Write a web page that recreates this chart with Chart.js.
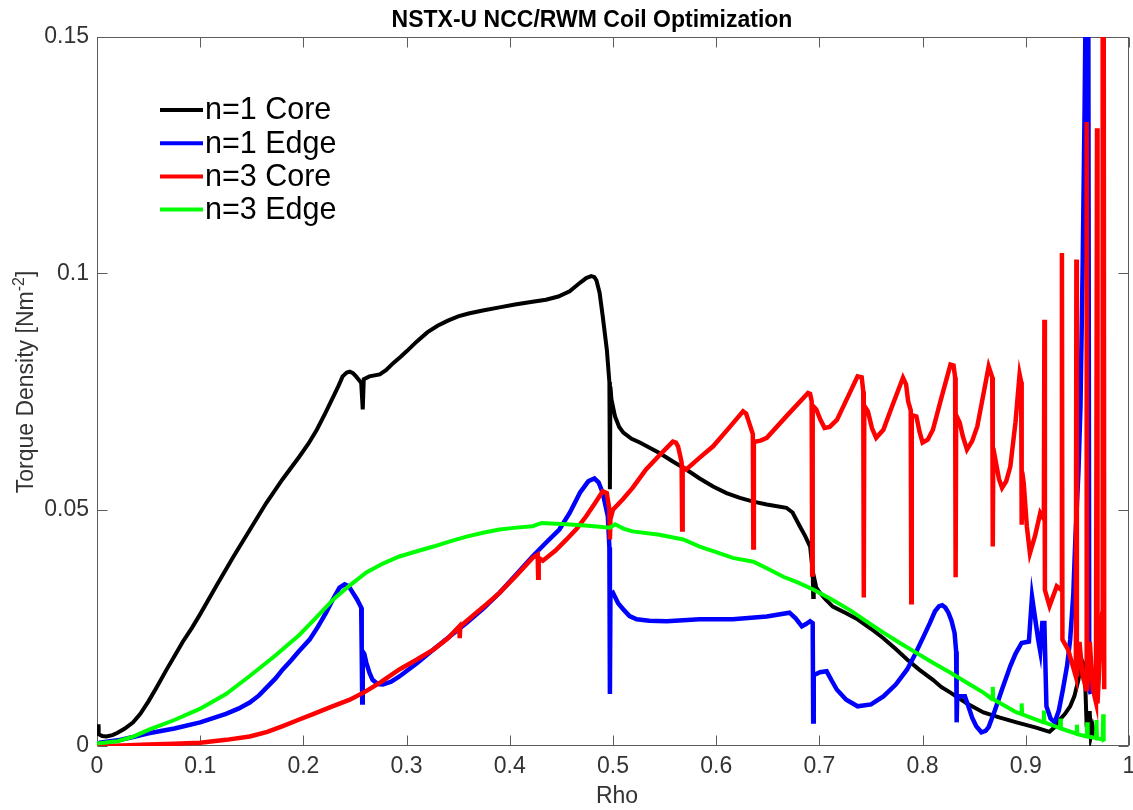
<!DOCTYPE html>
<html>
<head>
<meta charset="utf-8">
<title>NSTX-U NCC/RWM Coil Optimization</title>
<script src="https://cdn.jsdelivr.net/npm/chart.js@4.4.1/dist/chart.umd.min.js"></script>
<style>
  html, body { margin: 0; padding: 0; background: #fff; }
  canvas { display: block; }
</style>
</head>
<body>
<canvas id="torqueChart" width="1133" height="810"></canvas>
<script>
// axis ticks
const xTicks = [0, 0.1, 0.2, 0.3, 0.4, 0.5, 0.6, 0.7, 0.8, 0.9, 1];
const yTicks = [0, 0.05, 0.1, 0.15];

const seriesNames = ['n=1 Core', 'n=1 Edge', 'n=3 Core', 'n=3 Edge'];

// n=1 Core (black)
const core1Rho = [
  0, 0.0015, 0.0016, 0.005, 0.009, 0.015, 0.02, 0.027, 0.035, 0.042,
  0.05, 0.058, 0.067, 0.075, 0.083, 0.092, 0.1, 0.116, 0.132, 0.148,
  0.164, 0.18, 0.196, 0.205, 0.213, 0.221, 0.229, 0.234, 0.238, 0.242,
  0.245, 0.248, 0.251, 0.254, 0.256, 0.2575, 0.2585, 0.264, 0.274, 0.28,
  0.287, 0.294, 0.3, 0.31, 0.32, 0.33, 0.34, 0.35, 0.36, 0.375,
  0.39, 0.405, 0.422, 0.435, 0.447, 0.458, 0.468, 0.474, 0.479, 0.482,
  0.484, 0.487, 0.49, 0.494, 0.4965, 0.497, 0.4975, 0.4985, 0.502, 0.506,
  0.51, 0.518, 0.526, 0.545, 0.558, 0.571, 0.584, 0.597, 0.61, 0.623,
  0.636, 0.649, 0.668, 0.674, 0.681, 0.686, 0.691, 0.6935, 0.694, 0.6945,
  0.697, 0.7005, 0.706, 0.713, 0.725, 0.737, 0.75, 0.762, 0.774, 0.785,
  0.797, 0.81, 0.818, 0.827, 0.843, 0.859, 0.875, 0.891, 0.91, 0.923,
  0.928, 0.933, 0.938, 0.943, 0.947, 0.951, 0.954, 0.957, 0.958, 0.959,
  0.9605, 0.962, 0.963, 0.965, 0.967
];
const core1Torque = [
  0.0042, 0.0042, 0.0025, 0.0021, 0.002, 0.0023, 0.0028, 0.0037, 0.005, 0.0068,
  0.0095, 0.0125, 0.016, 0.019, 0.022, 0.025, 0.0279, 0.034, 0.040, 0.0457,
  0.0514, 0.0565, 0.0612, 0.064, 0.0669, 0.0703, 0.0739, 0.0762, 0.0782, 0.079,
  0.0792, 0.0789, 0.0782, 0.0774, 0.0768, 0.0712, 0.0776, 0.0782, 0.0786, 0.0795,
  0.081, 0.0823, 0.0835, 0.0856, 0.0875, 0.0889, 0.090, 0.0909, 0.0915, 0.0922,
  0.0928, 0.0934, 0.094, 0.0944, 0.0951, 0.0962, 0.098, 0.099, 0.0994, 0.0992,
  0.0985, 0.0959, 0.091, 0.0839, 0.077, 0.0543, 0.076, 0.0733, 0.0697, 0.0675,
  0.0663, 0.065, 0.0642, 0.062, 0.0602, 0.0585, 0.0566, 0.0549, 0.0535, 0.0525,
  0.0517, 0.0511, 0.0504, 0.0494, 0.0465, 0.0445, 0.0422, 0.037, 0.0315, 0.036,
  0.0335, 0.0324, 0.031, 0.0295, 0.0282, 0.0268, 0.0248, 0.0228, 0.0205, 0.0183,
  0.0161, 0.014, 0.0125, 0.0113, 0.009, 0.0071, 0.006, 0.005, 0.0039, 0.003,
  0.004, 0.0056, 0.0068, 0.0084, 0.0105, 0.014, 0.0183, 0.0169, 0.0105, 0.004,
  0.007, 0.007, 0.002, 0.004, 0.002
];

// n=1 Edge (blue)
const edge1Rho = [
  0, 0.003, 0.02, 0.035, 0.05, 0.075, 0.1, 0.125, 0.137, 0.148,
  0.157, 0.165, 0.173, 0.18, 0.188, 0.195, 0.206, 0.214, 0.222, 0.229,
  0.235, 0.24, 0.244, 0.248, 0.252, 0.256, 0.2565, 0.257, 0.2575, 0.259,
  0.261, 0.264, 0.267, 0.272, 0.277, 0.285, 0.293, 0.31, 0.326, 0.342,
  0.358, 0.374, 0.39, 0.406, 0.422, 0.435, 0.448, 0.458, 0.468, 0.476,
  0.482, 0.486, 0.49, 0.495, 0.4965, 0.497, 0.4975, 0.5, 0.505, 0.51,
  0.516, 0.523, 0.535, 0.552, 0.584, 0.616, 0.649, 0.671, 0.677, 0.683,
  0.687, 0.691, 0.6935, 0.694, 0.6945, 0.7005, 0.707, 0.712, 0.717, 0.726,
  0.737, 0.75, 0.762, 0.774, 0.785, 0.793, 0.801, 0.807, 0.812, 0.816,
  0.819, 0.822, 0.825, 0.828, 0.831, 0.8325, 0.833, 0.8335, 0.836, 0.841,
  0.845, 0.848, 0.852, 0.857, 0.861, 0.864, 0.87, 0.877, 0.885, 0.89,
  0.896, 0.903, 0.906, 0.912, 0.914, 0.916, 0.918, 0.92, 0.924, 0.928,
  0.932, 0.936, 0.94, 0.943, 0.946, 0.948, 0.951, 0.953, 0.955, 0.957,
  0.9585, 0.9605, 0.9615, 0.963
];
const edge1Torque = [
  0, 0.0007, 0.0012, 0.0019, 0.0027, 0.0037, 0.005, 0.0068, 0.0079, 0.0092,
  0.0107, 0.0125, 0.0143, 0.0162, 0.0181, 0.0199, 0.0225, 0.0252, 0.0282, 0.0312,
  0.0335, 0.0342, 0.0338, 0.0324, 0.031, 0.0293, 0.02, 0.0092, 0.02, 0.0195,
  0.0176, 0.0155, 0.014, 0.0131, 0.013, 0.0136, 0.0147, 0.0175, 0.0204, 0.0232,
  0.026, 0.029, 0.0324, 0.0362, 0.0401, 0.043, 0.0458, 0.0493, 0.0536, 0.056,
  0.0566, 0.0558, 0.0536, 0.0486, 0.042, 0.011, 0.032, 0.0324, 0.0302, 0.0289,
  0.0275, 0.0268, 0.0265, 0.0264, 0.0268, 0.0268, 0.0274, 0.0282, 0.027, 0.0253,
  0.0258, 0.0264, 0.026, 0.0052, 0.015, 0.0156, 0.0158, 0.0138, 0.0119, 0.0098,
  0.0084, 0.0088, 0.0105, 0.013, 0.0162, 0.0195, 0.0232, 0.026, 0.0285, 0.0296,
  0.0298, 0.0293, 0.0282, 0.0265, 0.0239, 0.02, 0.005, 0.01, 0.0105, 0.0105,
  0.008, 0.006, 0.0042, 0.0029, 0.0032, 0.004, 0.0075, 0.012, 0.0169, 0.0195,
  0.0218, 0.0221, 0.0316, 0.0225, 0.02, 0.026, 0.026, 0.0084, 0.0058, 0.005,
  0.0075, 0.012, 0.017, 0.0225, 0.032, 0.0437, 0.058, 0.0719, 0.1, 0.135,
  0.17, 0.17, 0.012, 0.011
];

// n=3 Core (red)
const core3Rho = [
  0, 0.025, 0.05, 0.075, 0.1, 0.125, 0.148, 0.165, 0.18, 0.196,
  0.21, 0.225, 0.245, 0.26, 0.275, 0.293, 0.31, 0.326, 0.34, 0.351,
  0.3515, 0.352, 0.365, 0.378, 0.39, 0.406, 0.422, 0.427, 0.4275, 0.428,
  0.432, 0.444, 0.455, 0.465, 0.474, 0.482, 0.49, 0.494, 0.4965, 0.497,
  0.4975, 0.5, 0.51, 0.519, 0.532, 0.545, 0.558, 0.561, 0.563, 0.565,
  0.5665, 0.567, 0.5675, 0.571, 0.584, 0.597, 0.612, 0.626, 0.629, 0.631,
  0.6355, 0.636, 0.6365, 0.638, 0.643, 0.649, 0.669, 0.689, 0.691, 0.6925,
  0.693, 0.6935, 0.697, 0.701, 0.705, 0.71, 0.717, 0.727, 0.737, 0.741,
  0.7425, 0.743, 0.7435, 0.747, 0.751, 0.755, 0.762, 0.771, 0.781, 0.784,
  0.786, 0.7885, 0.789, 0.7895, 0.794, 0.797, 0.8, 0.805, 0.81, 0.818,
  0.827, 0.83, 0.8315, 0.832, 0.8325, 0.836, 0.839, 0.843, 0.848, 0.853,
  0.859, 0.864, 0.8675, 0.868, 0.8685, 0.87, 0.874, 0.877, 0.881, 0.885,
  0.89, 0.894, 0.8955, 0.896, 0.8965, 0.898, 0.901, 0.904, 0.909, 0.914,
  0.9175, 0.918, 0.9185, 0.923, 0.93, 0.9345, 0.935, 0.9355, 0.941, 0.9485,
  0.949, 0.9495, 0.952, 0.955, 0.9585, 0.959, 0.9595, 0.962, 0.965, 0.968,
  0.969, 0.9695, 0.972, 0.974, 0.9745, 0.9755, 0.976
];
const core3Torque = [
  0, 0.0001, 0.0003, 0.0005, 0.0007, 0.0013, 0.002, 0.003, 0.0042, 0.0056,
  0.0068, 0.0081, 0.0098, 0.0115, 0.0135, 0.0162, 0.0183, 0.0204, 0.0228, 0.0253,
  0.0228, 0.0253, 0.0277, 0.0301, 0.0324, 0.036, 0.0398, 0.0405, 0.0356, 0.0398,
  0.0392, 0.0413, 0.0437, 0.046, 0.0486, 0.0512, 0.0539, 0.0535, 0.05, 0.0437,
  0.048, 0.05, 0.0523, 0.0546, 0.0585, 0.0615, 0.0644, 0.0642, 0.0634, 0.0615,
  0.06, 0.0458, 0.059, 0.0585, 0.061, 0.0634, 0.0672, 0.0708, 0.0703, 0.069,
  0.066, 0.042, 0.064, 0.0644, 0.0646, 0.0652, 0.070, 0.0747, 0.0745, 0.073,
  0.0363, 0.072, 0.0712, 0.069, 0.0673, 0.0675, 0.069, 0.0736, 0.0782, 0.078,
  0.075, 0.0314, 0.072, 0.0708, 0.0672, 0.0652, 0.0669, 0.0722, 0.0779, 0.0765,
  0.0729, 0.071, 0.0304, 0.07, 0.0697, 0.0665, 0.0642, 0.0648, 0.0669, 0.0735,
  0.0807, 0.0805, 0.078, 0.0357, 0.07, 0.0684, 0.0655, 0.0627, 0.0645, 0.0676,
  0.0745, 0.0803, 0.078, 0.0422, 0.063, 0.0612, 0.0565, 0.0546, 0.056, 0.0591,
  0.0685, 0.0786, 0.077, 0.0468, 0.058, 0.0556, 0.0465, 0.0408, 0.0445, 0.0493,
  0.048, 0.0902, 0.033, 0.0296, 0.0338, 0.033, 0.1043, 0.0225, 0.0204, 0.0147,
  0.1029, 0.0147, 0.022, 0.015, 0.012, 0.132, 0.012, 0.022, 0.012, 0.0092,
  0.1307, 0.009, 0.02, 0.028, 0.16, 0.16, 0.012
];

// n=3 Edge (green)
const edge3Rho = [
  0, 0.02, 0.035, 0.051, 0.075, 0.1, 0.125, 0.148, 0.172, 0.196,
  0.213, 0.229, 0.245, 0.261, 0.277, 0.293, 0.31, 0.326, 0.342, 0.358,
  0.374, 0.39, 0.406, 0.422, 0.431, 0.455, 0.476, 0.497, 0.502, 0.51,
  0.519, 0.545, 0.568, 0.584, 0.6, 0.616, 0.636, 0.65, 0.665, 0.68,
  0.694, 0.712, 0.73, 0.746, 0.762, 0.778, 0.794, 0.81, 0.827, 0.843,
  0.859, 0.8675, 0.868, 0.8685, 0.891, 0.8955, 0.896, 0.8965, 0.917, 0.9175,
  0.918, 0.933, 0.9335, 0.934, 0.949, 0.9495, 0.95, 0.959, 0.9595, 0.96,
  0.968, 0.9685, 0.969, 0.9745, 0.975, 0.9755, 0.977
];
const edge3Torque = [
  0.0005, 0.001, 0.002, 0.0035, 0.0055, 0.0079, 0.011, 0.0148, 0.019, 0.0235,
  0.0273, 0.031, 0.034, 0.0367, 0.0386, 0.0401, 0.0412, 0.0422, 0.0433, 0.0443,
  0.0451, 0.0458, 0.0462, 0.0465, 0.0472, 0.0469, 0.0466, 0.0462, 0.0469, 0.046,
  0.0454, 0.0447, 0.0437, 0.0422, 0.041, 0.0398, 0.039, 0.0375, 0.0358, 0.0345,
  0.0331, 0.031, 0.0287, 0.0263, 0.024, 0.0218, 0.0197, 0.0176, 0.0155, 0.0134,
  0.0113, 0.0099, 0.0125, 0.0099, 0.0071, 0.0068, 0.009, 0.0067, 0.005, 0.0075,
  0.005, 0.0038, 0.0058, 0.0037, 0.0026, 0.0045, 0.0025, 0.002, 0.005, 0.002,
  0.0017, 0.0055, 0.0016, 0.0014, 0.0067, 0.0014, 0.0016
];

const FONT = "'Liberation Sans', Arial, Helvetica, sans-serif";
Chart.defaults.font.family = FONT;

function pts(xs, ys) {
  return xs.map((x, i) => ({ x: x, y: ys[i] }));
}

// box + inward tick marks, matlab style
const axesBox = {
  id: 'axesBox',
  beforeDatasetsDraw(chart) {
    const { ctx, chartArea: a, scales: { x, y } } = chart;
    const L = a.left + 0.5, R = a.right - 0.5, T = a.top + 0.5, B = a.bottom - 0.5;
    ctx.save();
    ctx.strokeStyle = '#5c5c5c';
    ctx.lineWidth = 1;
    ctx.strokeRect(L, T, R - L, B - T);
    ctx.beginPath();
    xTicks.forEach(v => {
      const px = Math.round(x.getPixelForValue(v)) + 0.5;
      ctx.moveTo(px, B); ctx.lineTo(px, B - 10);
      ctx.moveTo(px, T); ctx.lineTo(px, T + 10);
    });
    yTicks.forEach(v => {
      const py = Math.round(y.getPixelForValue(v)) + 0.5;
      ctx.moveTo(L, py); ctx.lineTo(L + 10, py);
      ctx.moveTo(R, py); ctx.lineTo(R - 10, py);
    });
    ctx.stroke();
    ctx.restore();
  }
};

// title, axis labels and the in-plot legend
const labels = {
  id: 'labels',
  afterDraw(chart) {
    const ctx = chart.ctx;
    ctx.save();
    ctx.fillStyle = '#000';
    ctx.font = 'bold 23px ' + FONT;
    ctx.textAlign = 'center';
    ctx.textBaseline = 'alphabetic';
    ctx.fillText('NSTX-U NCC/RWM Coil Optimization', 592, 27);

    ctx.fillStyle = '#333';
    ctx.font = '23px ' + FONT;
    ctx.fillText('Rho', 617, 803);

    // y label with superscript
    const main = 'Torque Density [Nm', sup = '-2', close = ']';
    ctx.translate(33, 382);
    ctx.rotate(-Math.PI / 2);
    ctx.textAlign = 'left';
    ctx.font = '23px ' + FONT;
    const w1 = ctx.measureText(main).width;
    const w3 = ctx.measureText(close).width;
    ctx.font = '16px ' + FONT;
    const w2 = ctx.measureText(sup).width;
    let sx = -(w1 + w2 + w3) / 2;
    ctx.font = '23px ' + FONT;
    ctx.fillText(main, sx, 0);
    ctx.font = '16px ' + FONT;
    ctx.fillText(sup, sx + w1, -9);
    ctx.font = '23px ' + FONT;
    ctx.fillText(close, sx + w1 + w2, 0);
    ctx.restore();

    // legend
    ctx.save();
    ctx.font = '30.5px ' + FONT;
    ctx.textBaseline = 'middle';
    ctx.textAlign = 'left';
    chart.data.datasets.forEach((ds, i) => {
      const yy = 110 + i * 33.2;
      ctx.strokeStyle = ds.borderColor;
      ctx.lineWidth = 4;
      ctx.beginPath();
      ctx.moveTo(160, yy);
      ctx.lineTo(203, yy);
      ctx.stroke();
      ctx.fillStyle = '#000';
      ctx.fillText(ds.label, 205, yy + 1);
    });
    ctx.restore();
  }
};

const ctx = document.getElementById('torqueChart').getContext('2d');

new Chart(ctx, {
  type: 'scatter',
  data: {
    datasets: [
      { label: seriesNames[0], data: pts(core1Rho, core1Torque), borderColor: '#000000', borderWidth: 4, order: 4 },
      { label: seriesNames[1], data: pts(edge1Rho, edge1Torque), borderColor: '#0000ff', borderWidth: 4.5, order: 3 },
      { label: seriesNames[2], data: pts(core3Rho, core3Torque), borderColor: '#ff0000', borderWidth: 4.5, order: 2 },
      { label: seriesNames[3], data: pts(edge3Rho, edge3Torque), borderColor: '#00ff00', borderWidth: 4, order: 1 }
    ].map(d => Object.assign(d, {
      showLine: true,
      pointRadius: 0,
      backgroundColor: d.borderColor,
      tension: 0
    }))
  },
  options: {
    responsive: false,
    animation: false,
    layout: { padding: { top: 37, right: 4, left: 0, bottom: 0 } },
    plugins: {
      legend: { display: false },
      tooltip: { enabled: false },
      title: { display: false }
    },
    scales: {
      x: {
        type: 'linear',
        min: 0,
        max: 1,
        grid: { display: false, drawTicks: false },
        border: { display: false },
        afterBuildTicks: s => { s.ticks = xTicks.map(v => ({ value: v })); },
        afterFit: s => { s.height = 64; s.paddingLeft = 0; s.paddingRight = 0; },
        ticks: {
          padding: 7,
          color: '#333',
          font: { size: 23 },
          maxRotation: 0,
          autoSkip: false,
          callback: v => String(v)
        }
      },
      y: {
        type: 'linear',
        min: 0,
        max: 0.15,
        grid: { display: false, drawTicks: false },
        border: { display: false },
        afterBuildTicks: s => { s.ticks = yTicks.map(v => ({ value: v })); },
        afterFit: s => { s.width = 97; },
        ticks: {
          padding: 8,
          color: '#333',
          font: { size: 23 },
          autoSkip: false,
          callback: v => String(v)
        }
      }
    }
  },
  plugins: [axesBox, labels]
});
</script>
</body>
</html>
